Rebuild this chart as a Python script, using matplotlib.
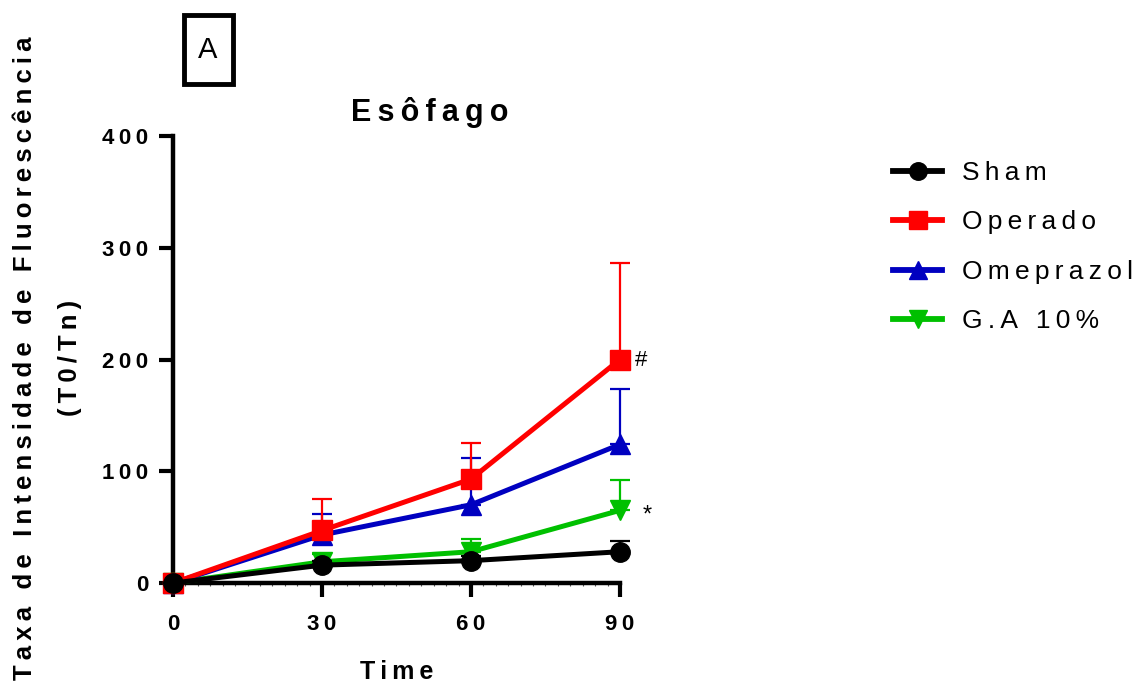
import numpy as np
import matplotlib.pyplot as plt
from matplotlib.patches import Rectangle

plt.rcParams['font.family'] = ['Liberation Sans', 'DejaVu Sans']

time = [0, 30, 60, 90]
groups = ['Sham', 'Operado', 'Omeprazol', 'G.A 10%']
sham = [0, 16, 20, 28]
sham_err = [0, 4, 4, 10]
operado = [0, 47, 93, 200]
operado_err = [0, 28, 32, 86]
omeprazol = [0, 43, 70, 124]
omeprazol_err = [0, 19, 42, 50]
ga = [0, 19, 28, 65]
ga_err = [0, 7, 11, 27]
yticks = [0, 100, 200, 300, 400]


def sp(s):
    # letter spacing like the original (GraphPad) figure
    return '\u2009'.join(s)


fig = plt.figure(figsize=(11.4, 6.88), dpi=100)
ax = fig.add_axes([0.1518, 0.1526, 0.392, 0.6497])

series = [(sham, sham_err, 'black', 'o', 14),
          (operado, operado_err, '#ff0000', 's', 15),
          (omeprazol, omeprazol_err, '#0000c0', '^', 15),
          (ga, ga_err, '#00c000', 'v', 15)]
zorders = {3: 2, 2: 4, 1: 6, 0: 8}
handles = {}
for i in [3, 2, 1, 0]:
    y, e, c, m, ms = series[i]
    z = zorders[i]
    ax.errorbar(time, y, yerr=[np.zeros(len(e)), e], fmt='none', ecolor=c,
                elinewidth=1.6, capsize=7, capthick=1.6, clip_on=False, zorder=z)
    ln, = ax.plot(time, y, color=c, marker=m, markersize=ms, lw=3.6,
                  clip_on=False, zorder=z + 1)
    handles[i] = ln

ax.set_xlim(0, 90)
ax.set_ylim(0, 400)
ax.set_xticks(time)
ax.set_xticklabels([sp(str(t)) for t in time])
ax.set_yticks(yticks)
ax.set_yticklabels([sp(str(v)) for v in yticks])
ax.set_xticks(np.arange(0, 90.1, 2.5), minor=True)
ax.tick_params(axis='both', which='major', width=3, length=10, labelsize=16)
ax.tick_params(axis='y', pad=8)
ax.tick_params(axis='x', pad=12)
ax.tick_params(axis='x', which='minor', width=0.8, length=2.5, color='#555555')
for lab in ax.get_xticklabels() + ax.get_yticklabels():
    lab.set_fontweight('bold')
for s in ['top', 'right']:
    ax.spines[s].set_visible(False)
for s in ['left', 'bottom']:
    ax.spines[s].set_linewidth(3.2)

fig.text(0.377, 0.836, sp('Esôfago'), fontsize=22, fontweight='bold',
         ha='center', va='center')
fig.text(0.348, 0.023, sp('Time'), fontsize=18, fontweight='bold',
         ha='center', va='center')
fig.text(0.022, 0.48, sp('Taxa de Intensidade de Fluorescência'), rotation=90,
         ha='center', va='center', fontsize=18.5, fontweight='bold')
fig.text(0.061, 0.48, sp('(T0/Tn)'), rotation=90,
         ha='center', va='center', fontsize=18.5, fontweight='bold')

ax.text(93, 199, '#', fontsize=16, va='center', ha='left')
ax.text(94.5, 60, '*', fontsize=17, va='center', ha='left')

fig.patches.append(Rectangle((0.161, 0.878), 0.043, 0.1, transform=fig.transFigure,
                             fill=False, lw=3.5, edgecolor='black'))
fig.text(0.1825, 0.927, 'A', fontsize=21, ha='center', va='center')

leg = fig.legend([handles[i] for i in range(4)], [sp(g) for g in groups],
                 loc='upper left', bbox_to_anchor=(0.772, 0.785), frameon=False,
                 fontsize=19, handlelength=1.85, labelspacing=0.96, handletextpad=0.75,
                 markerscale=0.9, borderpad=0)
for h in leg.legend_handles:
    h.set_linewidth(4.2)

fig.savefig('out.png', dpi=100)
